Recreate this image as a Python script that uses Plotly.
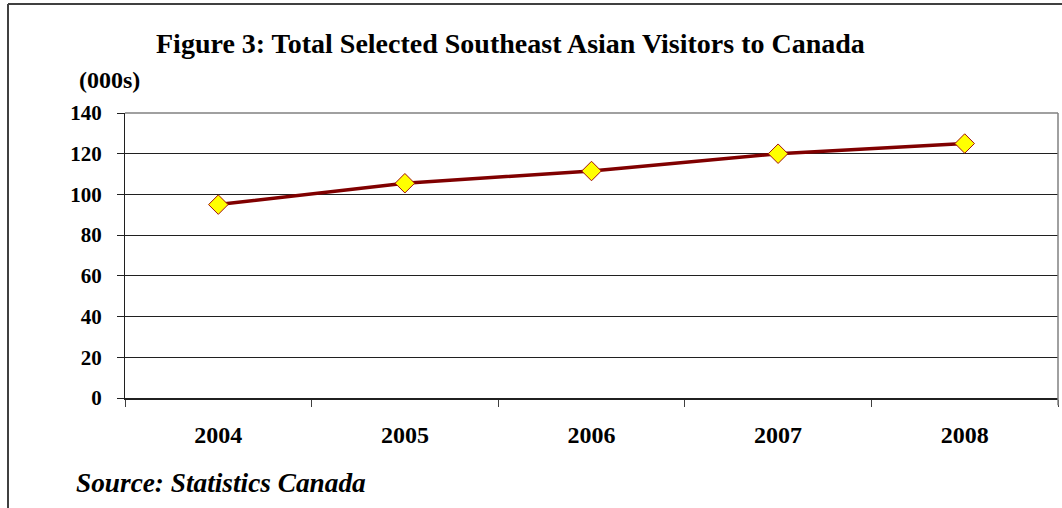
import plotly.graph_objects as go

years = ["2004", "2005", "2006", "2007", "2008"]
visitors = [95, 105.5, 111.5, 120, 125]
y_ticks = [0, 20, 40, 60, 80, 100, 120, 140]

FONT = "Liberation Serif, Times New Roman, serif"

fig = go.Figure()
fig.add_trace(go.Scatter(
    x=years, y=visitors, mode="lines+markers",
    line=dict(color="#800000", width=3.5),
    marker=dict(symbol="diamond", size=15, color="#FFFF00",
                line=dict(color="#A01010", width=1)),
    showlegend=False, cliponaxis=False,
))

fig.update_layout(
    width=1062, height=508,
    margin=dict(l=125, r=4, t=113, b=110),
    paper_bgcolor="white", plot_bgcolor="white",
    font=dict(family=FONT, color="black"),
    xaxis=dict(
        type="category", tickson="boundaries", ticks="outside", ticklen=7,
        tickcolor="#404040", showgrid=False, showline=True, linecolor="#202020",
        linewidth=1.5, tickfont=dict(size=24, family=FONT, color="black", weight="bold"),
        ticklabelstandoff=14, range=[-0.5, 4.5],
    ),
    yaxis=dict(
        range=[0, 140], tickvals=y_ticks, ticks="outside", ticklen=7,
        tickcolor="#202020", showgrid=True, gridcolor="#202020", gridwidth=1,
        showline=True, linecolor="#202020", linewidth=1.2, zeroline=False,
        tickfont=dict(size=21, family=FONT, color="black", weight="bold"),
        ticklabelstandoff=11,
    ),
)

# plot-area border (top/right) in gray
fig.add_shape(type="line", xref="paper", yref="paper", x0=0, x1=1, y0=1, y1=1,
              line=dict(color="#808080", width=1.5))
fig.add_shape(type="line", xref="paper", yref="paper", x0=1, x1=1, y0=-0.025, y1=1,
              line=dict(color="#808080", width=1.5))
# outer chart border (left/top)
fig.add_shape(type="line", xref="paper", yref="paper", x0=-0.1254, x1=-0.1254,
              y0=-0.4, y1=1.3825, line=dict(color="#404040", width=2))
fig.add_shape(type="line", xref="paper", yref="paper", x0=-0.1254, x1=1.01,
              y0=1.3825, y1=1.3825, line=dict(color="#404040", width=2))

fig.add_annotation(text="Figure 3: Total Selected Southeast Asian Visitors to Canada",
                   xref="paper", yref="paper", x=(510 - 125) / 933, y=(398 - 44) / 285,
                   showarrow=False, xanchor="center", yanchor="middle",
                   font=dict(size=28, family=FONT, color="black", weight="bold"))
fig.add_annotation(text="(000s)",
                   xref="paper", yref="paper", x=(77 - 125) / 933, y=(398 - 80) / 285,
                   showarrow=False, xanchor="left", yanchor="middle",
                   font=dict(size=24, family=FONT, color="black", weight="bold"))
fig.add_annotation(text="Source: Statistics Canada",
                   xref="paper", yref="paper", x=(74 - 125) / 933, y=(398 - 483) / 285,
                   showarrow=False, xanchor="left", yanchor="middle",
                   font=dict(size=27.3, family=FONT, color="black", weight="bold",
                             style="italic"))

fig.write_html("out.html")
